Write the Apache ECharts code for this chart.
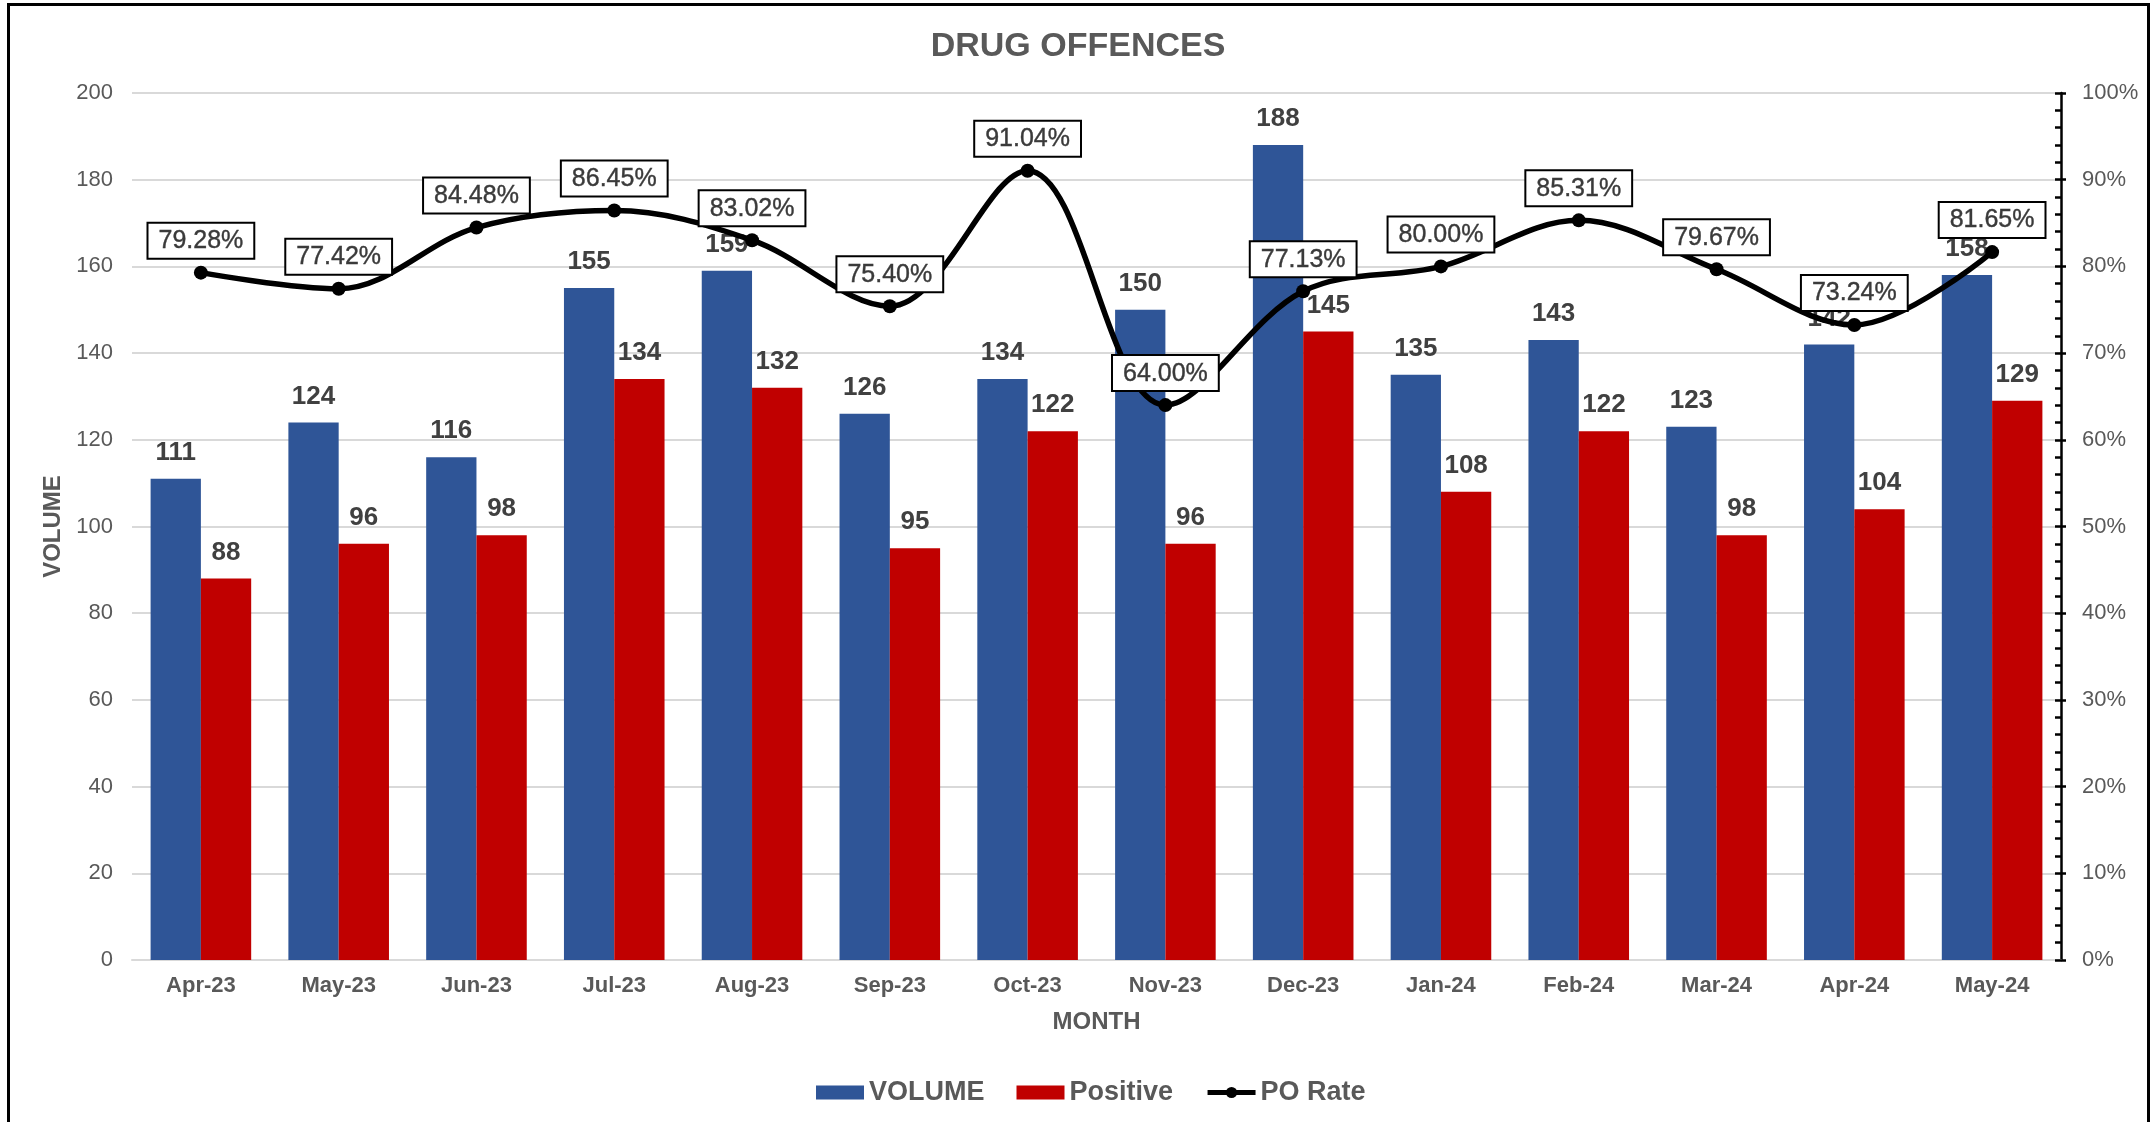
<!DOCTYPE html>
<html>
<head>
<meta charset="utf-8">
<script src="https://cdn.jsdelivr.net/npm/echarts@6/dist/echarts.min.js"></script>
<style>
  html, body { margin: 0; padding: 0; background: #fff; overflow: hidden; }
  #frame { position: absolute; left: 7px; top: 3px; width: 2143px; height: 1200px; border: 3px solid #000; box-sizing: border-box; }
  #chart { position: absolute; left: 0; top: 0; width: 2156px; height: 1122px; }
</style>
</head>
<body>
<div id="chart"></div>
<div id="frame"></div>
<script>
const months = ['Apr-23','May-23','Jun-23','Jul-23','Aug-23','Sep-23','Oct-23','Nov-23','Dec-23','Jan-24','Feb-24','Mar-24','Apr-24','May-24'];
const volume = [111,124,116,155,159,126,134,150,188,135,143,123,142,158];
const positive = [88,96,98,134,132,95,122,96,145,108,122,98,104,129];
const poRate = [79.28,77.42,84.48,86.45,83.02,75.40,91.04,64.00,77.13,80.00,85.31,79.67,73.24,81.65];
const leftTicks = [0,20,40,60,80,100,120,140,160,180,200];
const rightTicks = ['0%','10%','20%','30%','40%','50%','60%','70%','80%','90%','100%'];

const FONT = 'Liberation Sans, Arial, sans-serif';
const GREY = '#595959';
const chart = echarts.init(document.getElementById('chart'), null, {renderer: 'canvas'});

chart.setOption({
  animation: false,
  backgroundColor: '#fff',
  textStyle: { fontFamily: FONT },
  title: {
    text: 'DRUG OFFENCES',
    left: 'center',
    top: 25,
    textStyle: { fontFamily: FONT, fontSize: 34, fontWeight: 'bold', color: GREY }
  },
  legend: {
    left: 811,
    top: 1074,
    itemWidth: 48,
    itemHeight: 14,
    itemGap: 32,
    textStyle: { fontFamily: FONT, fontSize: 27, fontWeight: 'bold', color: GREY },
    data: [
      { name: 'VOLUME', icon: 'rect' },
      { name: 'Positive', icon: 'rect' },
      { name: 'PO Rate', lineStyle: { width: 5, color: '#000' }, itemStyle: { color: '#000' } }
    ]
  },
  grid: { left: 132, right: 95, top: 93, bottom: 162, containLabel: false },
  xAxis: {
    type: 'category',
    data: months,
    name: 'MONTH',
    nameLocation: 'middle',
    nameGap: 50,
    nameTextStyle: { fontFamily: FONT, fontSize: 24, fontWeight: 'bold', color: GREY },
    axisLine: { show: true, lineStyle: { color: '#d9d9d9', width: 2 } },
    axisTick: { show: false },
    axisLabel: { margin: 15, fontFamily: FONT, fontSize: 22, fontWeight: 'bold', color: GREY }
  },
  yAxis: [
    {
      type: 'value',
      min: leftTicks[0],
      max: leftTicks[leftTicks.length - 1],
      interval: leftTicks[1] - leftTicks[0],
      name: 'VOLUME',
      nameLocation: 'middle',
      nameGap: 65,
      nameRotate: 90,
      nameTextStyle: { fontFamily: FONT, fontSize: 24, fontWeight: 'bold', color: GREY },
      axisLine: { show: false },
      axisTick: { show: false },
      axisLabel: { margin: 19, fontFamily: FONT, fontSize: 22, color: GREY },
      splitLine: { show: true, lineStyle: { color: '#d9d9d9', width: 2 } }
    },
    {
      type: 'value',
      position: 'right',
      min: 0,
      max: 100,
      interval: 10,
      axisLine: { show: true, lineStyle: { color: '#000', width: 2.5 } },
      axisTick: { show: true, inside: true, length: 6, lineStyle: { color: '#000', width: 2.5 } },
      minorTick: { show: true, splitNumber: 5, length: 6, lineStyle: { color: '#000', width: 2.5 } },
      axisLabel: {
        margin: 21, fontFamily: FONT, fontSize: 22, color: GREY,
        formatter: function (v) { return rightTicks[Math.round(v / 10)]; }
      },
      splitLine: { show: false }
    },
    {
      type: 'value',
      position: 'right',
      min: 0,
      max: 100,
      interval: 10,
      axisLine: { show: false },
      axisTick: { show: true, inside: false, length: 5, lineStyle: { color: '#000', width: 2.5 } },
      axisLabel: { show: false },
      splitLine: { show: false }
    }
  ],
  series: [
    {
      name: 'VOLUME',
      type: 'bar',
      yAxisIndex: 0,
      data: volume,
      barGap: '0%',
      barCategoryGap: '27%',
      itemStyle: { color: '#2F5597' },
      label: {
        show: true, position: 'top', distance: 13,
        fontFamily: FONT, fontSize: 26, fontWeight: 'bold', color: '#404040'
      },
      z: 2
    },
    {
      name: 'Positive',
      type: 'bar',
      yAxisIndex: 0,
      data: positive,
      itemStyle: { color: '#C00000' },
      label: {
        show: true, position: 'top', distance: 13,
        fontFamily: FONT, fontSize: 26, fontWeight: 'bold', color: '#404040'
      },
      z: 2
    },
    {
      name: 'PO Rate',
      type: 'line',
      yAxisIndex: 1,
      data: poRate,
      smooth: 0.35,
      symbol: 'circle',
      symbolSize: 14,
      itemStyle: { color: '#000' },
      lineStyle: { color: '#000', width: 5.5 },
      label: {
        show: true, position: 'top', distance: 8,
        formatter: function (p) { return p.value.toFixed(2) + '%'; },
        fontFamily: FONT, fontSize: 25, color: '#3a3a3a',
        textBorderColor: '#3a3a3a', textBorderWidth: 0.4,
        backgroundColor: '#fff', borderColor: '#000', borderWidth: 2,
        padding: [5, 10, 4, 10]
      },
      z: 5
    }
  ]
});
</script>
</body>
</html>
